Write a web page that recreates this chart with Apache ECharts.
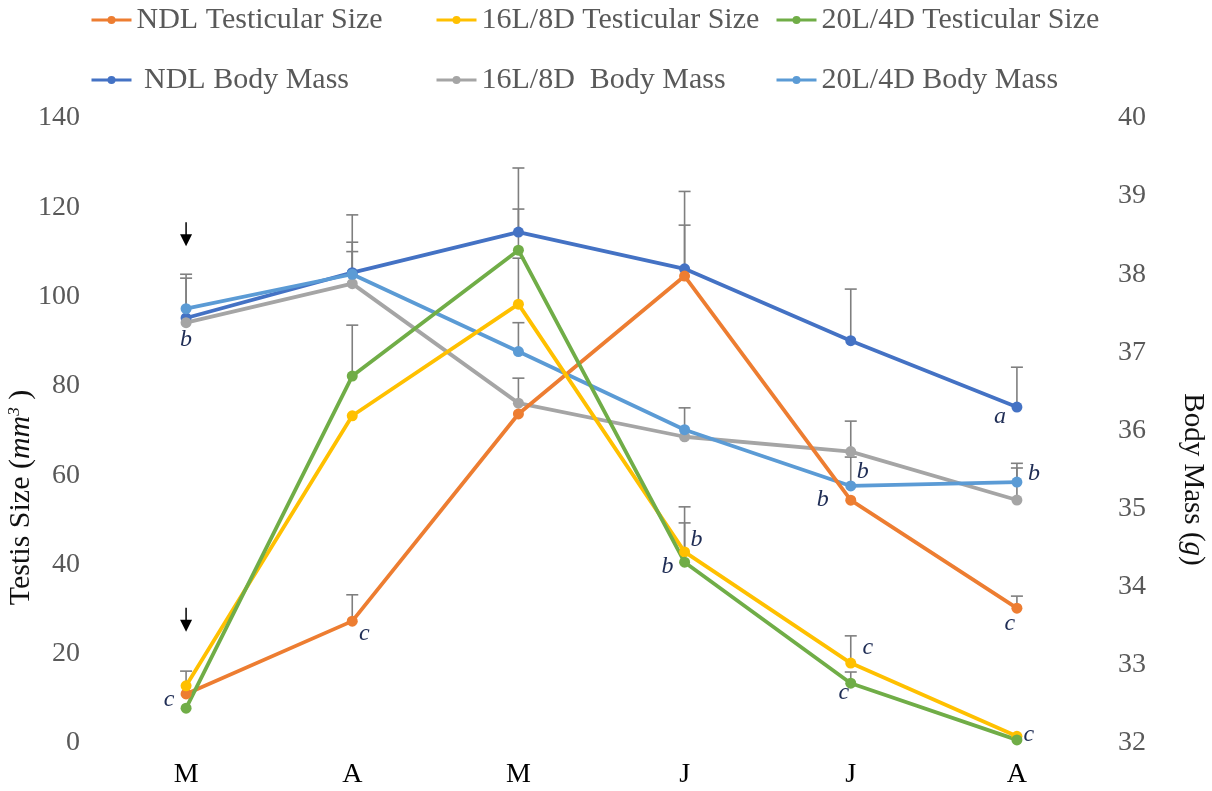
<!DOCTYPE html>
<html>
<head>
<meta charset="utf-8">
<script src="https://cdn.jsdelivr.net/npm/echarts@6/dist/echarts.min.js"></script>
<style>
html,body{margin:0;padding:0;background:#fff;}
#chart{width:1212px;height:791px;}
</style>
</head>
<body>
<div id="chart"></div>
<script>
// ---- data ----
var months = ['M', 'A', 'M', 'J', 'J', 'A'];

var ndlTestis   = [11.0, 27.3, 73.7, 104.6, 54.4, 30.2];
var l16Testis   = [12.8, 73.3, 98.3, 42.8, 17.9, 1.5];
var l20Testis   = [7.8, 82.2, 110.4, 40.5, 13.4, 0.7];

var ndlMass     = [37.44, 38.02, 38.54, 38.07, 37.15, 36.30];
var l16Mass     = [37.38, 37.88, 36.35, 35.92, 35.73, 35.11];
var l20Mass     = [37.56, 38.00, 37.01, 36.01, 35.29, 35.34];

// upper ends of the error bars (null = not shown)
var ndlTestisErr = [null, 33.2, null, 116.0, null, 32.9];
var l16TestisErr = [16.1, null, 108.6, 52.9, 24.0, null];
var l20TestisErr = [null, 93.6, 119.6, 49.3, 15.9, null];
var ndlMassErr   = [37.95, 38.76, 39.36, 39.06, 37.81, 36.81];
var l16MassErr   = [null, 38.29, 36.67, null, 36.12, 35.52];
var l20MassErr   = [38.0, 38.41, 37.38, 36.29, 35.66, 35.58];

// significance letters: [month index, testis-scale value, letter, side]
var letters = [
  [0, 90.3, 'b', 'c'],
  [0, 9.6, 'c', 'l'],
  [1, 24.4, 'c', 'r'],
  [3, 39.4, 'b', 'l'],
  [3, 45.5, 'b', 'r'],
  [4, 54.4, 'b', 'll'],
  [4, 60.7, 'b', 'r'],
  [4, 21.3, 'c', 'rr'],
  [4, 11.2, 'c', 'ls'],
  [5, 73.0, 'a', 'l'],
  [5, 60.3, 'b', 'rr'],
  [5, 26.7, 'c', 'ls'],
  [5, 1.8, 'c', 'r']
];
// arrow tips: [month index, testis-scale value]
var arrows = [[0, 111.3], [0, 24.9]];

var leftTicks = [0, 140, 20];
var rightTicks = [32, 40, 1];

// ---- styling ----
var C = {
  ndlT: '#ED7D31', l16T: '#FFC000', l20T: '#70AD47',
  ndlM: '#4472C4', l16M: '#A5A5A5', l20M: '#5B9BD5'
};
var SERIF = '"Liberation Serif", "Times New Roman", serif';
var sideOffset = {c: 0, l: -17, ll: -28, ls: -7, r: 12, rr: 17};

function lineSeries(name, data, color, yIdx) {
  return {
    name: name, type: 'line', data: data, yAxisIndex: yIdx,
    symbol: 'circle', symbolSize: 11, color: color,
    lineStyle: {width: 3.8, color: color},
    itemStyle: {color: color},
    z: 5
  };
}
function errSeries(vals, tops, yIdx) {
  var d = [];
  for (var i = 0; i < vals.length; i++) {
    if (tops[i] != null) d.push([i, vals[i], tops[i]]);
  }
  return {
    type: 'custom', yAxisIndex: yIdx, data: d, z: 3, silent: true,
    renderItem: function (params, api) {
      var p0 = api.coord([api.value(0), api.value(1)]);
      var p1 = api.coord([api.value(0), api.value(2)]);
      var st = {stroke: '#7F7F7F', lineWidth: 1.6};
      return {type: 'group', children: [
        {type: 'line', shape: {x1: p0[0], y1: p0[1], x2: p1[0], y2: p1[1]}, style: st},
        {type: 'line', shape: {x1: p1[0] - 6, y1: p1[1], x2: p1[0] + 6, y2: p1[1]}, style: st}
      ]};
    }
  };
}

var names = ['NDL Testicular Size', '16L/8D Testicular Size', '20L/4D Testicular Size',
             ' NDL Body Mass', '16L/8D  Body Mass', '20L/4D Body Mass'];
var legendPos = [[90, 5], [435, 5], [775, 5], [90, 65], [435, 65], [775, 65]];
var legends = names.map(function (n, i) {
  return {
    data: [n], left: legendPos[i][0], top: legendPos[i][1], padding: 0,
    itemWidth: 40, itemHeight: 10, itemGap: 0,
    lineStyle: {width: 3},
    textStyle: {fontFamily: SERIF, fontSize: 30, color: '#595959'}
  };
});

var option = {
  animation: false,
  backgroundColor: '#fff',
  legend: legends,
  grid: {left: 103, right: 112, top: 118, bottom: 48, containLabel: false, outerBoundsMode: 'none'},
  xAxis: {
    type: 'category', data: months, boundaryGap: true,
    axisLine: {show: false}, axisTick: {show: false}, splitLine: {show: false},
    axisLabel: {fontFamily: SERIF, fontSize: 28, color: '#000', margin: 18}
  },
  yAxis: [
    {
      type: 'value', min: leftTicks[0], max: leftTicks[1], interval: leftTicks[2],
      axisLine: {show: false}, axisTick: {show: false}, splitLine: {show: false},
      axisLabel: {fontFamily: SERIF, fontSize: 28, color: '#595959', margin: 23},
      name: '{n|Testis Size (}{i|mm}{s|3}{n| )}',
      nameLocation: 'middle', nameRotate: 90, nameGap: 66, nameMoveOverlap: false,
      nameTextStyle: {
        padding: [0, 134, 0, 0],
        rich: {
          n: {fontFamily: SERIF, fontSize: 30, color: '#111'},
          i: {fontFamily: SERIF, fontSize: 30, fontStyle: 'italic', color: '#111'},
          s: {fontFamily: SERIF, fontSize: 17, fontStyle: 'italic', color: '#111', verticalAlign: 'top', padding: [0, 0, 14, 0]}
        }
      }
    },
    {
      type: 'value', min: rightTicks[0], max: rightTicks[1], interval: rightTicks[2],
      position: 'right',
      axisLine: {show: false}, axisTick: {show: false}, splitLine: {show: false},
      axisLabel: {fontFamily: SERIF, fontSize: 28, color: '#595959', margin: 18},
      name: '{n|Body Mass (}{i|g}{n|)}',
      nameLocation: 'middle', nameRotate: -90, nameGap: 78, nameMoveOverlap: false,
      nameTextStyle: {
        padding: [0, 0, 0, 98],
        rich: {
          n: {fontFamily: SERIF, fontSize: 29, color: '#111'},
          i: {fontFamily: SERIF, fontSize: 29, fontStyle: 'italic', color: '#111'}
        }
      }
    }
  ],
  series: [
    errSeries(ndlTestis, ndlTestisErr, 0),
    errSeries(l16Testis, l16TestisErr, 0),
    errSeries(l20Testis, l20TestisErr, 0),
    errSeries(ndlMass, ndlMassErr, 1),
    errSeries(l16Mass, l16MassErr, 1),
    errSeries(l20Mass, l20MassErr, 1),
    lineSeries(names[3], ndlMass, C.ndlM, 1),
    lineSeries(names[4], l16Mass, C.l16M, 1),
    lineSeries(names[5], l20Mass, C.l20M, 1),
    lineSeries(names[0], ndlTestis, C.ndlT, 0),
    lineSeries(names[1], l16Testis, C.l16T, 0),
    lineSeries(names[2], l20Testis, C.l20T, 0),
    {
      type: 'custom', yAxisIndex: 0, z: 10, silent: true,
      data: letters.map(function (l) { return [l[0], l[1]]; }),
      renderItem: function (params, api) {
        var l = letters[params.dataIndex];
        var p = api.coord([api.value(0), api.value(1)]);
        return {type: 'text', x: p[0] + sideOffset[l[3]], y: p[1],
          style: {text: l[2], fontFamily: SERIF, fontSize: 24, fontStyle: 'italic',
                  fill: '#1F2D55', align: 'center', verticalAlign: 'middle'}};
      }
    },
    {
      type: 'custom', yAxisIndex: 0, z: 10, silent: true,
      data: arrows,
      renderItem: function (params, api) {
        var p = api.coord([api.value(0), api.value(1)]);
        return {type: 'group', children: [
          {type: 'line', shape: {x1: p[0], y1: p[1] - 24, x2: p[0], y2: p[1] - 10},
           style: {stroke: '#000', lineWidth: 1.5}},
          {type: 'polygon', shape: {points: [[p[0] - 6, p[1] - 12], [p[0] + 6, p[1] - 12], [p[0], p[1]]]},
           style: {fill: '#000'}}
        ]};
      }
    }
  ]
};

var chart = echarts.init(document.getElementById('chart'), null, {renderer: 'canvas'});
chart.setOption(option);
</script>
</body>
</html>
